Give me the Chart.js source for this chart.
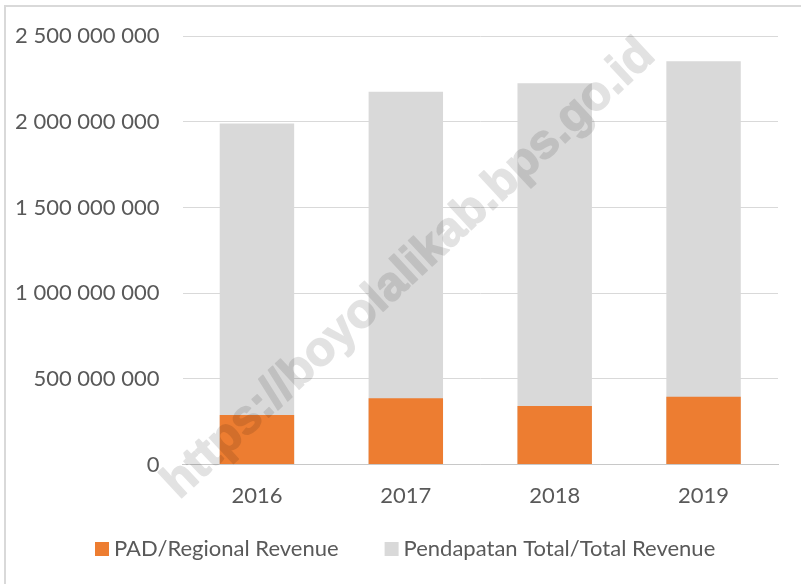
<!DOCTYPE html>
<html>
<head>
<meta charset="utf-8">
<script src="https://cdn.jsdelivr.net/npm/chart.js@4.4.1/dist/chart.umd.min.js"></script>
<style>
  html, body { margin: 0; padding: 0; background: #ffffff; }
  #wrap { position: relative; width: 801px; height: 584px; overflow: hidden; }
  canvas { display: block; }
</style>
</head>
<body>
<div id="wrap"><canvas id="c" width="801" height="584"></canvas></div>
<script>
// ---- data ----
const categories = ['2016', '2017', '2018', '2019'];
const padRevenue = [290000000, 387000000, 342000000, 396000000];
const totalRevenue = [1991000000, 2176000000, 2226000000, 2354000000];
const yTickValues = [0, 500000000, 1000000000, 1500000000, 2000000000, 2500000000];
const yTickLabels = ['0', '500 000 000', '1 000 000 000', '1 500 000 000', '2 000 000 000', '2 500 000 000'];
const seriesNames = ['PAD/Regional Revenue', 'Pendapatan Total/Total Revenue'];
const watermarkText = 'https://boyolalikab.bps.go.id';

const FONT = 'Lato, "Noto Sans", sans-serif';
const TEXT = '#595959';

// frame + watermark
const frameAndWatermark = {
  id: 'frameAndWatermark',
  beforeDraw(chart) {
    const ctx = chart.ctx;
    ctx.save();
    ctx.fillStyle = '#ffffff';
    ctx.fillRect(0, 0, chart.width, chart.height);
    ctx.strokeStyle = '#d9d9d9';
    ctx.lineWidth = 2;
    ctx.beginPath();
    ctx.moveTo(5, chart.height + 5);
    ctx.lineTo(5, 6);
    ctx.lineTo(chart.width + 5, 6);
    ctx.stroke();
    ctx.restore();
  },
  afterDraw(chart) {
    const off = document.createElement('canvas');
    off.width = chart.width; off.height = chart.height;
    const o = off.getContext('2d');
    o.translate(418, 279);
    o.rotate(-42.8 * Math.PI / 180);
    o.font = 'bold 48px "Liberation Sans", Arial, sans-serif';
    o.fillStyle = '#000';
    o.strokeStyle = '#000';
    o.lineWidth = 1.6;
    o.lineJoin = 'round';
    o.textAlign = 'center';
    o.textBaseline = 'alphabetic';
    o.fillText(watermarkText, 0, 0);
    o.strokeText(watermarkText, 0, 0);
    const ctx = chart.ctx;
    ctx.save();
    ctx.globalAlpha = 0.11;
    ctx.drawImage(off, 0, 0);
    ctx.restore();
  }
};

// legend drawn below the axis from the datasets
const bottomLegend = {
  id: 'bottomLegend',
  afterDraw(chart) {
    const ctx = chart.ctx;
    const ds = chart.data.datasets;
    const box = 14, gapText = 5, gapItem = 46, cy = 549, startX = 95;
    ctx.save();
    ctx.font = '22px ' + FONT;
    let x = startX;
    ds.forEach((d) => {
      const w = ctx.measureText(d.label).width;
      ctx.fillStyle = d.backgroundColor;
      ctx.fillRect(x, cy - box / 2, box, box);
      ctx.fillStyle = TEXT;
      ctx.textAlign = 'left';
      ctx.textBaseline = 'middle';
      ctx.fillText(d.label, x + box + gapText, cy);
      x += box + gapText + w + gapItem;
    });
    ctx.restore();
  }
};

new Chart(document.getElementById('c'), {
  type: 'bar',
  data: {
    labels: categories,
    datasets: [
      {
        label: seriesNames[0],
        data: padRevenue,
        backgroundColor: '#ED7D31',
        borderWidth: 0,
        grouped: false,
        barPercentage: 0.5,
        categoryPercentage: 1.0
      },
      {
        label: seriesNames[1],
        data: totalRevenue,
        backgroundColor: '#D9D9D9',
        borderWidth: 0,
        grouped: false,
        barPercentage: 0.5,
        categoryPercentage: 1.0
      }
    ]
  },
  options: {
    responsive: false,
    animation: false,
    devicePixelRatio: 1,
    layout: { padding: { top: 36, left: 0, right: 23, bottom: 57 } },
    plugins: {
      tooltip: { enabled: false },
      legend: { display: false }
    },
    scales: {
      x: {
        grid: { display: false, drawTicks: false },
        border: { display: true, color: '#c8c8c8', width: 1 },
        ticks: { color: TEXT, font: { family: FONT, size: 22 }, padding: 18 }
      },
      y: {
        min: 0,
        max: 2500000000,
        afterFit(scale) { scale.width = 182.5; },
        afterBuildTicks(scale) { scale.ticks = yTickValues.map(v => ({ value: v })); },
        grid: { color: '#d9d9d9', lineWidth: 1, drawTicks: false },
        border: { display: false },
        ticks: {
          color: TEXT,
          padding: 23,
          font: { family: FONT, size: 22 },
          callback(value) {
            const i = yTickValues.indexOf(value);
            return i >= 0 ? yTickLabels[i] : '';
          }
        }
      }
    }
  },
  plugins: [frameAndWatermark, bottomLegend]
});
</script>
</body>
</html>
